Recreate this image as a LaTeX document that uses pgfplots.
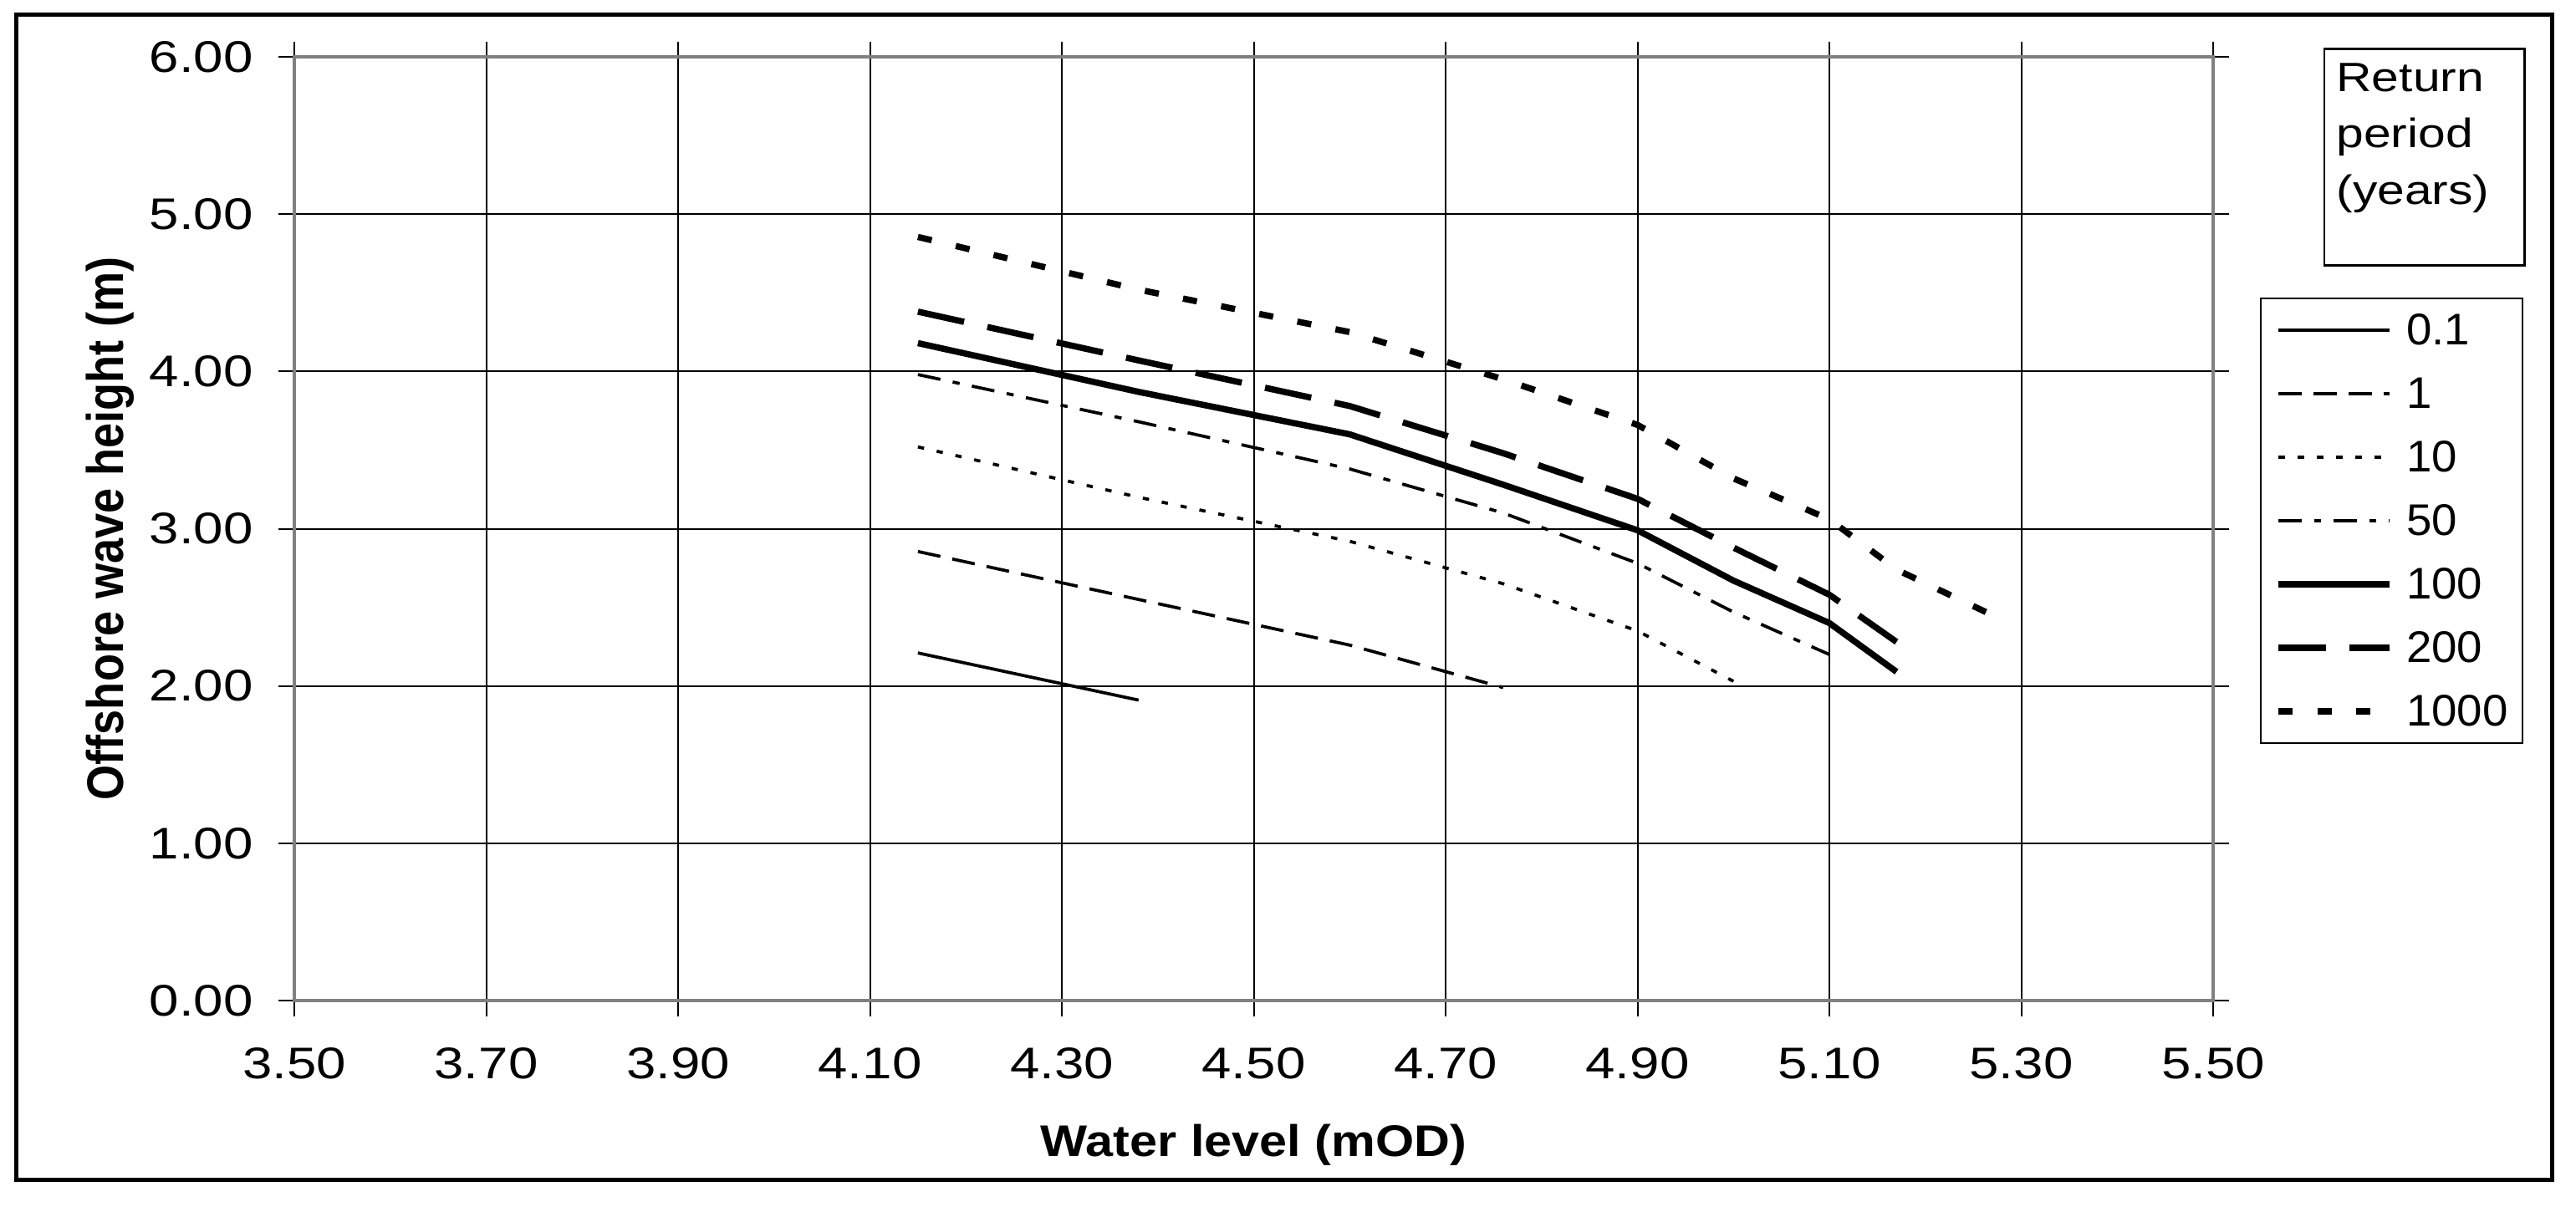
\documentclass[border=0pt]{standalone}
\usepackage{pgfplots}
\pgfplotsset{compat=1.18}
\usepackage{fontspec}
\setmainfont{Liberation Sans}
\newfontfamily\tickfont{Liberation Sans}[FakeStretch=1.2]
\newfontfamily\labfont{Liberation Sans}[FakeStretch=1.12]
\newfontfamily\legfont{Liberation Sans}[FakeStretch=1.03]
\newfontfamily\ttlfont{Liberation Sans}[FakeStretch=1.2]
\newfontfamily\ylabfont{Liberation Sans}[FakeStretch=0.88]

\definecolor{plotgray}{RGB}{128,128,128}

\begin{document}
\begin{tikzpicture}
\useasboundingbox (0,0) rectangle (616.2bp,288.8bp);
\begin{axis}[
    at={(70.4bp,49.4bp)}, anchor=south west,
    scale only axis, width=459bp, height=225.8bp,
    xmin=3.5, xmax=5.5, ymin=0, ymax=6,
    xtick={3.5,3.7,3.9,4.1,4.3,4.5,4.7,4.9,5.1,5.3,5.5},
    ytick={0,1,2,3,4,5,6},
    grid=major,
    major grid style={black, line width=0.4bp},
    axis line style={plotgray, line width=0.9bp},
    tick align=outside, major tick length=3.7bp,
    tick style={black, line width=0.4bp},
    /pgf/number format/assume math mode=true,
    /pgf/number format/.cd, fixed, fixed zerofill, precision=2, /pgfplots/.cd,
    ticklabel style={font=\tickfont\fontsize{10.6bp}{12bp}\selectfont},
    xticklabel style={anchor=base, yshift=-15bp},
    yticklabel style={anchor=east, inner sep=0pt, xshift=-6bp},
    xlabel={Water level (mOD)},
    xlabel style={at={(axis description cs:0.5,-0.1656)}, anchor=base,
        font=\labfont\bfseries\fontsize{10.6bp}{12bp}\selectfont},
    ylabel={Offshore wave height (m)},
    ylabel style={at={(axis description cs:-0.0893,0.5)}, anchor=base,
        font=\ylabfont\bfseries\fontsize{12.3bp}{14bp}\selectfont},
    legend style={at={(1.0244,0.7449)}, anchor=north west,
        draw=black, line width=0.3bp,
        inner xsep=3.5bp, inner ysep=0pt, row sep=0pt, column sep=3.3bp,
        font=\legfont\fontsize{10.6bp}{12bp}\selectfont,
        nodes={inner sep=0pt, text height=11.2bp, text depth=4bp},
        every even column/.append style={text width=29.9bp}},
    legend cell align=left,
    legend image code/.code={\draw[#1] (0bp,0bp) -- (26.6bp,0bp);},
    every axis plot/.append style={black, line join=round, no markers},
]
\addplot[line width=0.75bp] coordinates {
    (4.15,2.21) (4.38,1.91)
};
\addlegendentry{0.1}
\addplot[line width=0.75bp, dash pattern=on 5.5bp off 2.9bp] coordinates {
    (4.15,2.855) (4.38,2.55) (4.60,2.26) (4.76,1.99)
};
\addlegendentry{1}
\addplot[line width=0.75bp, dash pattern=on 1.5bp off 3.1bp] coordinates {
    (4.15,3.52) (4.38,3.20) (4.60,2.92) (4.76,2.65) (4.90,2.35) (5.00,2.03)
};
\addlegendentry{10}
\addplot[line width=0.75bp, dash pattern=on 5.5bp off 3bp on 1.7bp off 3bp] coordinates {
    (4.15,3.98) (4.38,3.68) (4.60,3.38) (4.76,3.10) (4.90,2.78) (5.00,2.47) (5.10,2.20)
};
\addlegendentry{50}
\addplot[line width=1.5bp] coordinates {
    (4.15,4.18) (4.38,3.87) (4.60,3.60) (4.76,3.28) (4.90,2.99) (5.00,2.67) (5.10,2.40) (5.17,2.09)
};
\addlegendentry{100}
\addplot[line width=1.5bp, dash pattern=on 11.3bp off 5.7bp] coordinates {
    (4.15,4.38) (4.38,4.07) (4.60,3.78) (4.76,3.48) (4.90,3.19) (5.00,2.88) (5.10,2.58) (5.17,2.28)
};
\addlegendentry{200}
\addplot[line width=1.5bp, dash pattern=on 3.4bp off 5.9bp] coordinates {
    (4.15,4.855) (4.38,4.52) (4.60,4.25) (4.76,3.95) (4.90,3.66) (5.00,3.32) (5.10,3.06) (5.17,2.74) (5.27,2.45)
};
\addlegendentry{1000}
\end{axis}
% legend title box
\draw[line width=0.55bp] (556bp,225.3bp) rectangle (603.9bp,277.1bp);
\node[anchor=base west, inner sep=0pt, font=\ttlfont\fontsize{9.8bp}{12bp}\selectfont] at (558.7bp,266.8bp) {Return};
\node[anchor=base west, inner sep=0pt, font=\ttlfont\fontsize{9.8bp}{12bp}\selectfont] at (558.7bp,253.4bp) {period};
\node[anchor=base west, inner sep=0pt, font=\ttlfont\fontsize{9.8bp}{12bp}\selectfont] at (558.7bp,239.8bp) {(years)};
% chart frame
\draw[line width=1bp] (3.8bp,6.4bp) rectangle (610.4bp,285.2bp);
\end{tikzpicture}
\end{document}
